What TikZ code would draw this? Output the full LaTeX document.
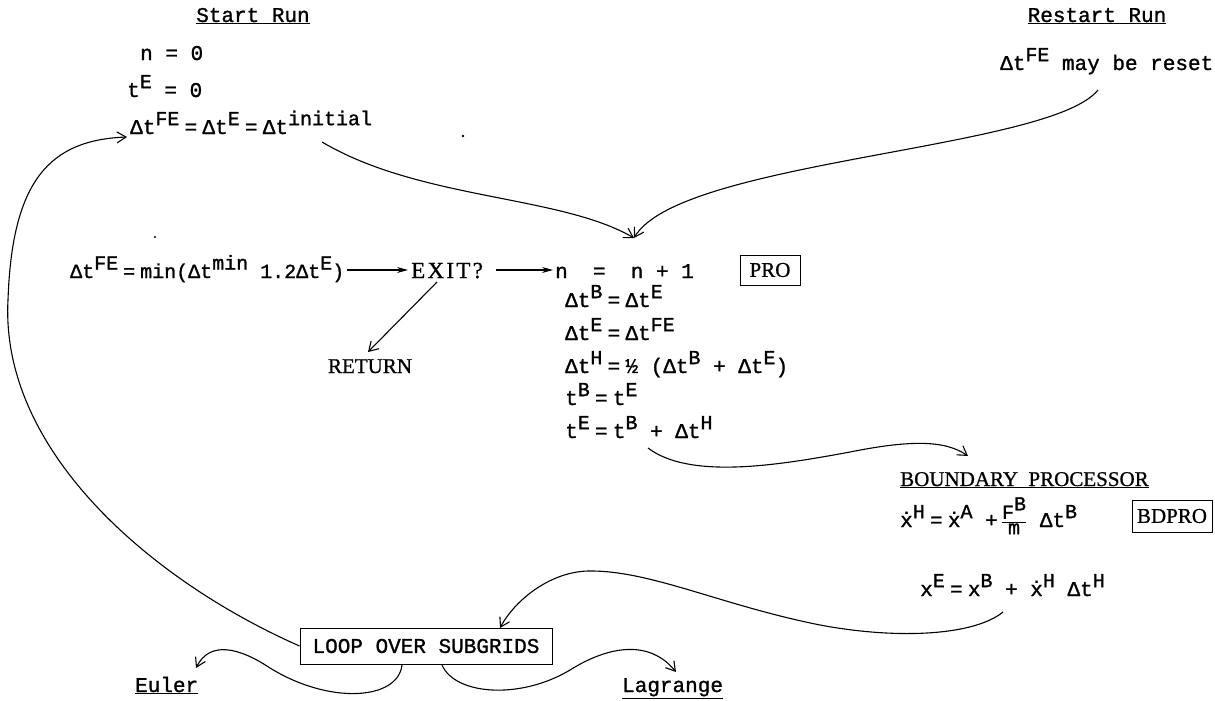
\documentclass[tikz,border=0pt]{standalone}
\usepackage{fontspec}
\setmainfont{Liberation Serif}[FakeBold=0.8]
\newfontfamily\twfont{Liberation Mono}[FakeBold=1.2]
\usetikzlibrary{arrows.meta}
% raised typewriter-style superscript
\newcommand\sps[1]{\raisebox{0.42em}{\fontsize{20}{20}\selectfont #1}}
% x with a dot above (time derivative)
\newcommand\xd{\accent"02D9 x}
\newcommand\eqs{\hspace{0.25em}=\hspace{0.25em}}
\newcommand\fracpart[1]{\hbox{\twfont\fontsize{20}{20}\selectfont #1}}
\tikzset{
  tw/.style={font=\twfont\fontsize{21}{24}\selectfont, inner sep=0pt, anchor=base west},
  sf/.style={font=\fontsize{21}{24}\selectfont, inner sep=0pt, anchor=base west},
  labelbox/.style={draw, line width=1pt, inner sep=0pt},
  wire/.style={line width=1.1pt},
  curvearrow/.style={wire, -{Straight Barb[length=9pt,width=11pt,line width=1.1pt]}},
  flatarrow/.style={wire, -{Stealth[length=11pt,width=6pt]}},
}
\begin{document}
\begin{tikzpicture}[x=1pt,y=-1pt]
\useasboundingbox (0,0) rectangle (1215,701);

% ---- start of run ----
\node[tw, anchor=base] (start) at (253,22) {\underline{Start Run}};
\node[tw] (n0) at (140,60) {n = 0};
\node[tw] (te0) at (127,97) {t\sps{E} = 0};
\node[tw] (dtinit) at (130,134) {Δt\sps{FE}\eqs Δt\sps{E}\eqs Δt\sps{initial}};
\fill (463,136) circle (1.3);

% ---- restart ----
\node[tw, anchor=base] (restart) at (1097,22) {\underline{Restart Run}};
\node[tw] (reset) at (1000,70) {Δt\sps{FE} may be reset};

% ---- time step control row ----
\node[tw, font=\twfont\fontsize{20}{24}\selectfont] (minrow) at (70,278) {Δt\sps{FE}\eqs min(Δt\sps{min} 1.2Δt\sps{E})};
\fill (155,237) circle (1.2);
\node[sf, font=\fontsize{23}{26}\selectfont\addfontfeature{LetterSpace=10}] (exit) at (411,278) {EXIT?};
\node[sf, anchor=base] (ret) at (370,373) {RETURN};
\node[tw] (nn) at (555,278) {n\ \ =\ \ n + 1};
\node[labelbox, font=\fontsize{21}{24}\selectfont, minimum width=60, minimum height=30] (pro) at (770,270) {PRO};

% ---- PRO update equations ----
\node[tw] (e1) at (565,307) {Δt\sps{B}\eqs Δt\sps{E}};
\node[tw] (e2) at (565,340) {Δt\sps{E}\eqs Δt\sps{FE}};
\node[tw] (e3) at (565,373) {Δt\sps{H}\eqs ½ (Δt\sps{B} + Δt\sps{E})};
\node[tw] (e4) at (565,405) {t\sps{B}\eqs t\sps{E}};
\node[tw] (e5) at (565,438) {t\sps{E}\eqs t\sps{B} + Δt\sps{H}};

% ---- boundary processor ----
\node[sf] (bdtitle) at (900,486) {\underline{BOUNDARY\ \ PROCESSOR}};
\node[tw] (b1) at (900,527) {\xd\sps{H}\eqs \xd\sps{A} +\hspace{0.15em}$\frac{\fracpart{F\sps{B}}}{\fracpart{m}}$ Δt\sps{B}};
\node[labelbox, font=\fontsize{21}{24}\selectfont, minimum width=80, minimum height=32] (bdpro) at (1172,516) {BDPRO};
\node[tw] (b2) at (920,596) {x\sps{E}\eqs x\sps{B} + \xd\sps{H}  Δt\sps{H}};

% ---- subgrid loop ----
\node[draw, line width=1pt, font=\twfont\fontsize{21}{24}\selectfont, minimum width=252, minimum height=36, inner sep=0pt] (loop) at (426,646) {LOOP OVER SUBGRIDS};
\node[tw] (euler) at (135,692) {\underline{Euler}};
\node[tw] (lagr) at (622,692) {\underline{Lagrange}};

% ---- connector end points ----
\coordinate (minEnd) at (347,270);
\coordinate (exitIn) at (408,270);
\coordinate (exitOut) at (496,270);
\coordinate (nnIn) at (553,270);
\coordinate (initTail) at (322,142);
\coordinate (resetTail) at (1098,90);
\coordinate (nnTip) at (634,238);
\coordinate (exitTail) at (437,282);
\coordinate (retTip) at (368,352);
\coordinate (tbTail) at (648,448);
\coordinate (bdTip) at (968,456);
\coordinate (xeTail) at (1003,612);
\coordinate (loopTip) at (500,628);
\coordinate (dtTip) at (127,137);
\coordinate (eulTail) at (402,665);
\coordinate (eulTip) at (196,668);
\coordinate (lagTail) at (442,665);
\coordinate (lagTip) at (676,672);

% ---- connectors ----
\draw[flatarrow] (minEnd) -- (exitIn);
\draw[flatarrow] (exitOut) -- (nnIn);
\draw[curvearrow] (exitTail) -- (retTip);
\draw[curvearrow] (initTail) .. controls (420,200) and (560,195) .. (nnTip);
\draw[curvearrow] (resetTail) .. controls (1050,150) and (680,160) .. (nnTip);
\draw[curvearrow] (tbTail) .. controls (690,480) and (780,465) .. (850,452)
                  .. controls (910,440) and (945,440) .. (bdTip);
\draw[curvearrow] (xeTail) .. controls (975,635) and (900,640) .. (820,625)
                  .. controls (720,605) and (650,570) .. (588,571)
                  .. controls (550,572) and (515,600) .. (loopTip);
\draw[curvearrow] (loop.west) .. controls (150,580) and (0,450) .. (8,300)
                  .. controls (12,180) and (50,140) .. (dtTip);
\draw[curvearrow] (eulTail) .. controls (398,700) and (330,705) .. (270,668)
                  .. controls (240,648) and (210,640) .. (eulTip);
\draw[curvearrow] (lagTail) .. controls (455,695) and (520,700) .. (570,670)
                  .. controls (610,645) and (650,640) .. (lagTip);
\end{tikzpicture}
\end{document}
